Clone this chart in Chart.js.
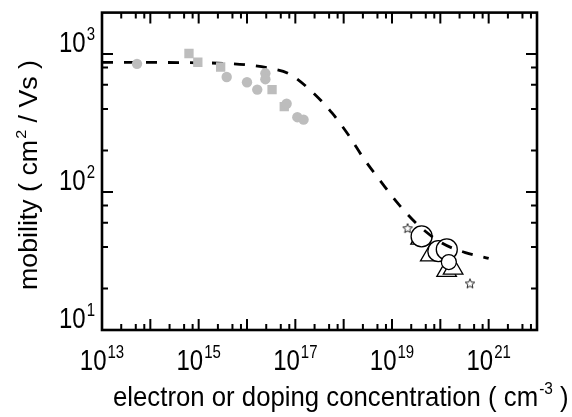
<!DOCTYPE html>
<html>
<head>
<meta charset="utf-8">
<script src="https://cdn.jsdelivr.net/npm/chart.js@4.4.0/dist/chart.umd.min.js"></script>
<style>
  html, body { margin: 0; padding: 0; background: #fff; }
</style>
</head>
<body>
<canvas id="mobility" width="572" height="417"></canvas>
<script>
// axes: concentration (cm^-3) vs mobility (cm^2/Vs), both log
const xDecades = [13, 14, 15, 16, 17, 18, 19, 20, 21, 22];
const xLabelExps = [13, 15, 17, 19, 21];
const xMinorSteps = [2.5, 5, 7.5];
const yDecades = [1, 2, 3];
const yLabelExps = [1, 2, 3];
const yMinorSteps = [2, 4, 6, 8];

// low-doped bulk samples (filled grey)
const grayCircleN = [5.3e13, 3.8e15, 1.0e16, 1.63e16, 2.4e16, 2.4e16, 6.6e16, 1.1e17, 1.48e17];
const grayCircleMu = [850, 682, 625, 553, 726, 658, 437, 349, 335];
const graySquareN = [6.3e14, 9.6e14, 2.85e15, 3.3e16, 5.9e16];
const graySquareMu = [1010, 873, 807, 553, 416];

// degenerate films (open symbols)
const openCircleN = [4.1e19, 9.1e19, 1.36e20, 1.5e20];
const openCircleMu = [47.7, 37.3, 38.4, 31.1];
const triangleN = [3.9e19, 6.2e19, 1.35e20, 1.84e20];
const triangleMu = [46.1, 34.8, 26.9, 27.9];
const starN = [2.1e19, 4.1e20];
const starMu = [54.8, 21.8];

// empirical mobility model
const fitN = [1e13, 1e14, 1e15, 3.2e15, 1e16, 3.2e16, 7.4e16, 2.2e17, 5.8e17, 1.3e18, 2.6e18, 6e18, 1.35e19, 3.6e19, 1.1e20, 3.3e20, 1e21];
const fitMu = [870, 870, 865, 858, 835, 785, 720, 535, 373, 255, 175, 118, 82, 57, 42.5, 36.4, 33];

const GREY = '#bdbdbd';
const FONT = '"Liberation Sans", Arial, sans-serif';
const TEXT_SY = 1.2;   // glyphs are drawn a little taller than wide

const pts = (xs, ys) => xs.map((v, i) => ({ x: v, y: ys[i] }));

function makeStar(r) {
  const c = document.createElement('canvas');
  const s = Math.ceil(r * 2 + 4);
  c.width = s; c.height = s;
  const g = c.getContext('2d');
  g.translate(s / 2, s / 2 + 0.5);
  g.beginPath();
  for (let i = 0; i < 10; i++) {
    const rr = i % 2 ? r * 0.45 : r;
    const a = -Math.PI / 2 + i * Math.PI / 5;
    g.lineTo(rr * Math.cos(a), rr * Math.sin(a));
  }
  g.closePath();
  g.fillStyle = '#fff';
  g.fill();
  g.strokeStyle = '#222';
  g.lineWidth = 1;
  g.stroke();
  return c;
}

// draws "10" with a raised exponent; anchor is baseline, align center/right
function powerLabel(ctx, exp, x, y, align) {
  ctx.save();
  ctx.translate(x, y);
  ctx.scale(1, TEXT_SY);
  ctx.font = '24px ' + FONT;
  const wb = ctx.measureText('10').width;
  ctx.font = '15px ' + FONT;
  const we = ctx.measureText(String(exp)).width;
  const total = wb + 1 + we;
  const left = align === 'center' ? -total / 2 : -total;
  ctx.font = '24px ' + FONT;
  ctx.fillText('10', left, 0);
  ctx.font = '15px ' + FONT;
  ctx.fillText(String(exp), left + wb + 1, -10);
  ctx.restore();
}

// text run with one superscript part
function supText(ctx, before, sup, after, size, supSize, raise) {
  ctx.font = size + 'px ' + FONT;
  ctx.fillText(before, 0, 0);
  let cx = ctx.measureText(before).width + 1;
  ctx.font = supSize + 'px ' + FONT;
  ctx.fillText(sup, cx, -raise);
  cx += ctx.measureText(sup).width;
  ctx.font = size + 'px ' + FONT;
  ctx.fillText(after, cx, 0);
}

const frameAndTicks = {
  id: 'frameAndTicks',
  afterDraw(chart) {
    const { ctx, chartArea: a, scales: { x, y } } = chart;
    ctx.save();
    ctx.strokeStyle = '#000';
    ctx.fillStyle = '#000';
    ctx.lineCap = 'butt';

    const MAJOR = 11, MINOR = 6;
    ctx.lineWidth = 2;
    ctx.beginPath();
    const xTick = (v, len) => {
      const px = x.getPixelForValue(v);
      ctx.moveTo(px, a.bottom); ctx.lineTo(px, a.bottom - len);
      ctx.moveTo(px, a.top); ctx.lineTo(px, a.top + len);
    };
    const yTick = (v, len) => {
      const py = y.getPixelForValue(v);
      ctx.moveTo(a.left, py); ctx.lineTo(a.left + len, py);
      ctx.moveTo(a.right, py); ctx.lineTo(a.right - len, py);
    };
    xDecades.forEach(d => {
      xTick(Math.pow(10, d), MAJOR);
      if (d < xDecades[xDecades.length - 1]) xMinorSteps.forEach(m => xTick(m * Math.pow(10, d), MINOR));
    });
    yDecades.forEach(d => {
      yTick(Math.pow(10, d), MAJOR);
      yMinorSteps.forEach(m => {
        const v = m * Math.pow(10, d);
        if (v < y.max) yTick(v, MINOR);
      });
    });
    ctx.stroke();

    ctx.lineWidth = 2.6;
    ctx.strokeRect(a.left, a.top, a.right - a.left, a.bottom - a.top);

    ctx.textBaseline = 'alphabetic';
    ctx.textAlign = 'left';
    xLabelExps.forEach(e => powerLabel(ctx, e, x.getPixelForValue(Math.pow(10, e)), 370, 'center'));
    yLabelExps.forEach(e => powerLabel(ctx, e, 95, y.getPixelForValue(Math.pow(10, e)) - 2, 'right'));

    // axis titles
    ctx.save();
    ctx.translate(113, 406);
    ctx.scale(1.03, 1.12);
    supText(ctx, 'electron or doping concentration ( cm', '-3', ' )', 25, 15, 11);
    ctx.restore();

    ctx.save();
    ctx.translate(37, 290);
    ctx.rotate(-Math.PI / 2);
    ctx.scale(1.07, 1);
    supText(ctx, 'mobility ( cm', '2', ' / Vs )', 25, 15, 11);
    ctx.restore();

    ctx.restore();
  }
};

new Chart(document.getElementById('mobility'), {
  type: 'scatter',
  data: {
    datasets: [
      {
        label: 'bulk (circles)',
        data: pts(grayCircleN, grayCircleMu),
        pointStyle: 'circle', pointRadius: 5.2,
        backgroundColor: GREY, borderColor: GREY, borderWidth: 0,
        order: 0
      },
      {
        label: 'bulk (squares)',
        data: pts(graySquareN, graySquareMu),
        pointStyle: 'rect', pointRadius: 6.6,
        backgroundColor: GREY, borderColor: GREY, borderWidth: 0,
        order: 1
      },
      {
        label: 'films (stars)',
        data: pts(starN, starMu),
        pointStyle: makeStar(5),
        pointRadius: 5,
        order: 2
      },
      {
        label: 'fit',
        data: pts(fitN, fitMu),
        showLine: true,
        borderColor: '#000', borderWidth: 2.8,
        borderDash: [11, 11],
        pointRadius: 0,
        cubicInterpolationMode: 'monotone',
        fill: false,
        order: 3
      },
      {
        label: 'films (circles)',
        data: pts(openCircleN, openCircleMu),
        pointStyle: 'circle',
        pointRadius: [10.5, 10.5, 10.5, 7.5],
        backgroundColor: '#fff', borderColor: '#000', borderWidth: 1.3,
        order: 4
      },
      {
        label: 'films (triangles)',
        data: pts(triangleN, triangleMu),
        pointStyle: 'triangle', pointRadius: 11.3,
        backgroundColor: '#fff', borderColor: '#000', borderWidth: 1.3,
        order: 5
      }
    ]
  },
  options: {
    responsive: false,
    animation: false,
    layout: { padding: { left: 102, top: 8, right: 35, bottom: 87 } },
    plugins: { legend: { display: false }, tooltip: { enabled: false } },
    scales: {
      x: { type: 'logarithmic', min: 1e13, max: 1e22, display: false },
      y: { type: 'logarithmic', min: 10, max: 2000, display: false }
    }
  },
  plugins: [frameAndTicks]
});
</script>
</body>
</html>
